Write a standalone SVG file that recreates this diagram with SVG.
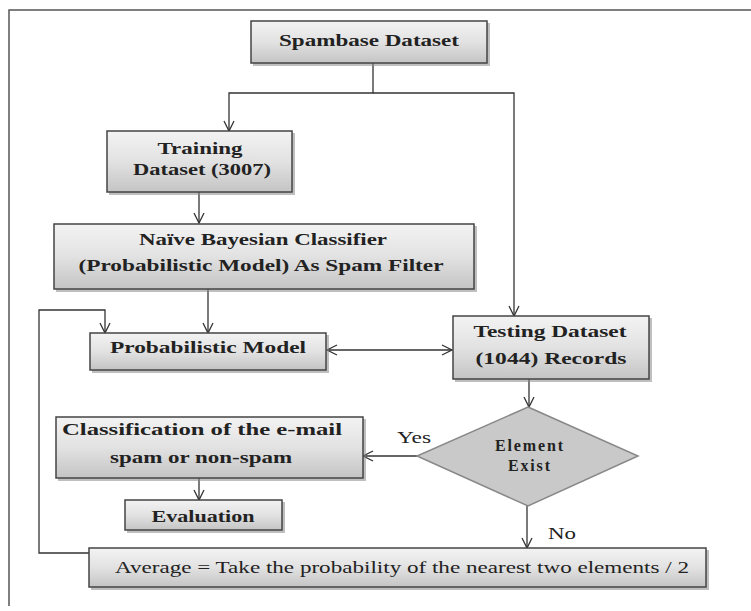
<svg xmlns="http://www.w3.org/2000/svg" width="751" height="611" viewBox="0 0 751 611">
<defs>
<linearGradient id="g" x1="0" y1="0" x2="0" y2="1">
<stop offset="0" stop-color="#f3f3f3"/>
<stop offset="0.5" stop-color="#e2e2e2"/>
<stop offset="1" stop-color="#c4c4c4"/>
</linearGradient>
<marker id="a" markerUnits="userSpaceOnUse" markerWidth="14" markerHeight="14" refX="12" refY="7" orient="auto-start-reverse">
<path d="M2,2 L12,7 L2,12" fill="none" stroke="#333" stroke-width="1.3"/>
</marker>
<style>
.box{fill:url(#g);stroke:#444;stroke-width:1.5}
.sh{fill:#8a8a8a;opacity:0.55}
.t{font-family:"Liberation Serif","Times New Roman",serif;font-weight:bold;font-size:16px;fill:#222;text-anchor:middle}
.r{font-family:"Liberation Serif","Times New Roman",serif;font-size:16px;fill:#222}
.c{fill:none;stroke:#333;stroke-width:1.3}
.frame{fill:none;stroke:#555;stroke-width:1.5}
</style>
</defs>
<rect width="751" height="611" fill="#fff"/>
<path class="frame" d="M9,606 V10 H751"/>

<g id="connectors">
<path class="c" d="M373,63 V93 H229 V131" marker-end="url(#a)"/>
<path class="c" d="M373,93 H514 V316" marker-end="url(#a)"/>
<path class="c" d="M199,192 V223" marker-end="url(#a)"/>
<path class="c" d="M208,289 V333" marker-end="url(#a)"/>
<path class="c" d="M89,553 H39 V310 H105 V333" stroke="#666" marker-end="url(#a)"/>
<path class="c" d="M327,350 H452" marker-start="url(#a)" marker-end="url(#a)"/>
<path class="c" d="M529,379 V407" marker-end="url(#a)"/>
<path class="c" d="M417,456 H363" marker-end="url(#a)"/>
<path class="c" d="M199,478 V500" marker-end="url(#a)"/>
<path class="c" d="M527,506 V548" marker-end="url(#a)"/>
<text class="r" x="397" y="443" textLength="34" lengthAdjust="spacingAndGlyphs">Yes</text>
<text class="r" x="548" y="539" textLength="28" lengthAdjust="spacingAndGlyphs">No</text>
</g>

<g id="spambase">
<rect class="sh" x="253" y="23" width="237" height="43"/>
<rect class="box" x="251" y="21" width="236" height="42"/>
<text class="t" x="369" y="46" font-size="17" textLength="180" lengthAdjust="spacingAndGlyphs">Spambase Dataset</text>
</g>

<g id="training">
<rect class="sh" x="109" y="133" width="186" height="62"/>
<rect class="box" x="107" y="131" width="185" height="61"/>
<text class="t" x="200" y="154" textLength="85" lengthAdjust="spacingAndGlyphs">Training</text>
<text class="t" x="202" y="175" textLength="138" lengthAdjust="spacingAndGlyphs">Dataset (3007)</text>
</g>

<g id="naive">
<rect class="sh" x="56" y="226" width="421" height="66"/>
<rect class="box" x="54" y="224" width="420" height="65"/>
<text class="t" x="263" y="245" textLength="248" lengthAdjust="spacingAndGlyphs">Naïve Bayesian Classifier</text>
<text class="t" x="261" y="271" textLength="365" lengthAdjust="spacingAndGlyphs">(Probabilistic Model) As Spam Filter</text>
</g>

<g id="probmodel">
<rect class="sh" x="92" y="335" width="237" height="38"/>
<rect class="box" x="90" y="333" width="236" height="37"/>
<text class="t" x="208" y="353" textLength="196" lengthAdjust="spacingAndGlyphs">Probabilistic Model</text>
</g>

<g id="testing">
<rect class="sh" x="455" y="318" width="197" height="64"/>
<rect class="box" x="453" y="316" width="196" height="63"/>
<text class="t" x="550" y="337" textLength="153" lengthAdjust="spacingAndGlyphs">Testing Dataset</text>
<text class="t" x="551" y="364" textLength="151" lengthAdjust="spacingAndGlyphs">(1044) Records</text>
</g>

<g id="element-exist">
<polygon points="528,407 638,456 528,506 417,456" fill="#c9c9c9" stroke="#888" stroke-width="1.5"/>
<text class="t" x="529" y="451" font-size="13" textLength="68" lengthAdjust="spacing">Element</text>
<text class="t" x="529" y="471" font-size="13" textLength="42" lengthAdjust="spacing">Exist</text>
</g>

<g id="classification">
<rect class="sh" x="58" y="419" width="308" height="62"/>
<rect class="box" x="56" y="417" width="307" height="61"/>
<text class="t" x="202" y="435" textLength="280" lengthAdjust="spacingAndGlyphs">Classification of the e-mail</text>
<text class="t" x="201" y="463" textLength="182" lengthAdjust="spacingAndGlyphs">spam or non-spam</text>
</g>

<g id="evaluation">
<rect class="sh" x="127" y="502" width="158" height="31"/>
<rect class="box" x="125" y="500" width="157" height="30"/>
<text class="t" x="203" y="522" textLength="103" lengthAdjust="spacingAndGlyphs">Evaluation</text>
</g>

<g id="average">
<rect class="sh" x="91" y="550" width="618" height="40"/>
<rect class="box" x="89" y="548" width="617" height="39"/>
<text class="r" x="115" y="573" textLength="574" lengthAdjust="spacingAndGlyphs">Average = Take the probability of the nearest two elements / 2</text>
</g>
</svg>
